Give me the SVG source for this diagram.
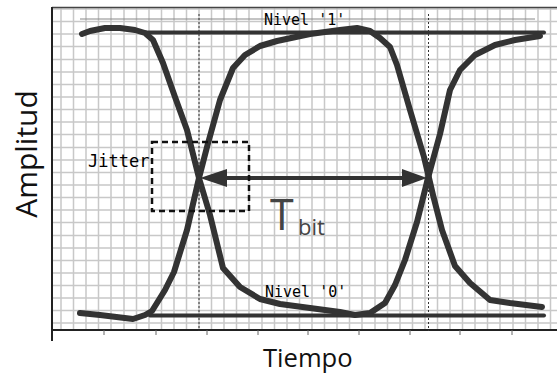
<svg xmlns="http://www.w3.org/2000/svg" width="557" height="377" viewBox="0 0 557 377">
<style>
.grid{stroke:#c8c8c8;stroke-width:1.5;fill:none}
.axis{stroke:#222;stroke-width:2;fill:none}
.tick{stroke:#666;stroke-width:1;fill:none}
.dot{stroke:#333;stroke-width:1;stroke-dasharray:2 2;fill:none}
.wave{stroke:#333;stroke-width:6;fill:none;stroke-linejoin:round;stroke-linecap:round}
.level{stroke:#333;stroke-width:4;fill:none;stroke-linecap:round}
.mono{font-family:"DejaVu Sans Mono","Liberation Mono",monospace;fill:#000}
.sans{font-family:"Open Sans","DejaVu Sans",sans-serif}
</style>
<rect width="557" height="377" fill="#fff"/>
<g id="grid">
<path class="grid" d="M61 8V330M73.5 8V330M86 8V330M98.5 8V330M111 8V330M124 8V330M136.5 8V330M149 8V330M161.5 8V330M174 8V330M186.5 8V330M199 8V330M211.5 8V330M224 8V330M236.5 8V330M249 8V330M262 8V330M274.5 8V330M287 8V330M299.5 8V330M312 8V330M324.5 8V330M337 8V330M349.5 8V330M362 8V330M375 8V330M387.5 8V330M400 8V330M412.5 8V330M425 8V330M437.5 8V330M450 8V330M462.5 8V330M475 8V330M487.5 8V330M500 8V330M513 8V330M525.5 8V330M538 8V330M550.5 8V330"/>
<path class="grid" d="M52 9H557M52 21.5H557M52 34H557M52 46.5H557M52 59.5H557M52 72H557M52 84.5H557M52 97H557M52 109.5H557M52 122H557M52 134.5H557M52 147.5H557M52 160H557M52 172.5H557M52 185H557M52 197.5H557M52 210H557M52 222.5H557M52 235.5H557M52 248H557M52 260.5H557M52 273H557M52 285.5H557M52 298H557M52 310.5H557M52 323H557"/>
</g>
<g id="axes">
<path d="M52 7.5H557" stroke="#444" stroke-width="1.5" fill="none"/>
<path d="M80 19H535" stroke="#888" stroke-width="1" fill="none"/>
<path class="axis" d="M52 7V341M52 330H557"/>
<path class="tick" d="M104 330V335M156 330V335M207 330V335M258 330V335M308 330V335M359 330V335M410 330V335M460 330V335M512 330V335"/>
<path class="dot" d="M199 14V331M428.5 14V331"/>
</g>
<g id="levels">
<path class="level" d="M145 32.5H544"/>
<path class="level" d="M150 315.5H544"/>
</g>
<g id="waves">
<polyline class="wave" points="82,34 90,31 105,28 120,28 135,30 145,33 153,40 163,63 175,97 187,130 199,178 210,215 223,268 240,287 260,299 280,304 310,308 340,312 355,315 370,313 385,303 395,285 405,260 417,222 428,178 440,134 450,90 460,70 475,55 495,45 515,40 540,36"/>
<polyline class="wave" points="80,313 100,315 133,319 145,315 152,311 165,290 174,272 187,230 199,178 207,147 220,100 233,68 245,55 260,46 277,41 310,34 340,30 357,28 370,31 380,38 390,47 397,65 410,110 424,157 429,178 433,195 442,230 455,266 470,283 490,300 510,303 542,307"/>
</g>
<g id="tbit-arrow">
<path d="M224 178H405" stroke="#333" stroke-width="4" fill="none"/>
<polygon points="200,178 227,169 227,187" fill="#333"/>
<polygon points="427,178 402,169 402,187" fill="#333"/>
</g>
<g id="jitter">
<rect x="152" y="142" width="97" height="69" fill="none" stroke="#111" stroke-width="2.5" stroke-dasharray="6 4"/>
<text class="mono" x="88" y="167" font-size="17">Jitter</text>
</g>
<g id="labels">
<text class="mono" x="264" y="25" font-size="15">Nivel '1'</text>
<text class="mono" x="265" y="297" font-size="15">Nivel '0'</text>
<text class="sans" x="270" y="229.5" font-size="43" fill="#444">T</text>
<text class="sans" x="298" y="235" font-size="22" fill="#444">bit</text>
<text class="sans" x="263" y="367" font-size="25.6" fill="#111">Tiempo</text>
<text class="sans" font-size="30" fill="#111" text-anchor="middle" transform="translate(37 154) rotate(-90)">Amplitud</text>
</g>
</svg>
